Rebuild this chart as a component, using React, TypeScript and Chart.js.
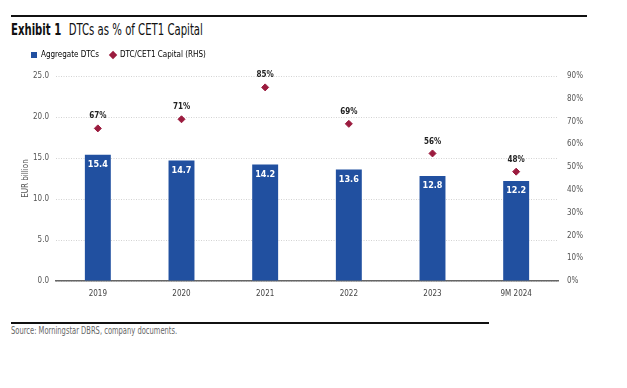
import React, { useEffect, useRef } from "react";
import { Chart, registerables } from "chart.js";

Chart.register(...registerables);

const categories = ["2019", "2020", "2021", "2022", "2023", "9M 2024"];
const aggregateDTCs = [15.4, 14.7, 14.2, 13.6, 12.8, 12.2];
const dtcToCet1 = [67, 71, 85, 69, 56, 48];
const leftTicks = [0, 5, 10, 15, 20, 25];
const rightTicks = [0, 10, 20, 30, 40, 50, 60, 70, 80, 90];

const FONT = "'Liberation Sans Narrow', 'DejaVu Sans Condensed', 'Roboto', sans-serif";
const BLUE = "#2150a0";
const RED = "#9b1b3e";

const labelPlugin = {
  id: "valueLabels",
  afterDatasetsDraw(chart: any) {
    const ctx = chart.ctx;
    ctx.save();
    ctx.textAlign = "center";
    ctx.textBaseline = "middle";
    const barMeta = chart.getDatasetMeta(0);
    ctx.font = `bold 9px ${FONT}`;
    ctx.fillStyle = "#ffffff";
    barMeta.data.forEach((el: any, i: number) => {
      ctx.fillText(aggregateDTCs[i].toFixed(1), el.x, el.y + 10);
    });
    const ptMeta = chart.getDatasetMeta(1);
    ctx.fillStyle = "#222222";
    ctx.font = `bold 8px ${FONT}`;
    ptMeta.data.forEach((el: any, i: number) => {
      ctx.fillText(dtcToCet1[i] + "%", el.x, el.y - 12);
    });
    ctx.restore();
  },
};

const legendTweak = {
  id: "legendTweak",
  beforeUpdate(chart: any) {
    const lg = chart.legend;
    if (lg && !lg.__tweaked) {
      lg.__tweaked = true;
      const fit = lg.fit.bind(lg);
      lg.fit = function () {
        fit();
        this.height += 7;
      };
      const draw = lg.draw.bind(lg);
      lg.draw = function () {
        const ctx = chart.ctx;
        ctx.save();
        ctx.translate(10, 0);
        draw();
        ctx.restore();
      };
    }
  },
};

export default function App() {
  const ref = useRef<HTMLCanvasElement>(null);
  useEffect(() => {
    if (!ref.current) return;
    const chart = new Chart(ref.current, {
      type: "bar",
      data: {
        labels: categories,
        datasets: [
          {
            type: "bar",
            label: "Aggregate DTCs",
            data: aggregateDTCs,
            backgroundColor: BLUE,
            yAxisID: "y",
            barPercentage: 0.62,
            categoryPercentage: 0.5,
            order: 2,
          },
          {
            type: "line",
            label: "DTC/CET1 Capital (RHS)",
            data: dtcToCet1,
            yAxisID: "y1",
            showLine: false,
            pointStyle: "rectRot",
            pointRadius: 3.5,
            backgroundColor: RED,
            borderColor: RED,
            order: 1,
          } as any,
        ],
      },
      options: {
        animation: false,
        responsive: false,
        maintainAspectRatio: false,
        layout: { padding: { top: 0, left: 0, right: 0, bottom: 0 } },
        plugins: {
          legend: {
            position: "top",
            align: "start",
            labels: {
              usePointStyle: true,
              boxWidth: 6,
              boxHeight: 6,
              padding: 11,
              color: "#333",
              font: { family: FONT, size: 8 },
              generateLabels(chart: any) {
                return chart.data.datasets.map((ds: any, i: number) => ({
                  text: ds.label,
                  fillStyle: i === 0 ? BLUE : RED,
                  strokeStyle: i === 0 ? BLUE : RED,
                  lineWidth: 0,
                  pointStyle: i === 0 ? "rect" : "rectRot",
                  datasetIndex: i,
                  hidden: false,
                }));
              },
            },
          },
          tooltip: { enabled: false },
        },
        scales: {
          x: {
            grid: { display: false, drawTicks: false },
            border: { display: true, color: "#666", width: 1.5 },
            ticks: { color: "#444", font: { family: FONT, size: 8 }, padding: 8 },
            afterFit(s: any) { s.height = 24; },
          },
          y: {
            position: "left",
            min: 0,
            max: 25,
            afterBuildTicks(s: any) { s.ticks = leftTicks.map((v) => ({ value: v })); },
            ticks: {
              color: "#555",
              font: { family: FONT, size: 8 },
              padding: 7,
              callback: (v: any) => Number(v).toFixed(1),
            },
            grid: { color: "#c8c8c8", drawTicks: false, lineWidth: 0.8 },
            border: { display: false, dash: [1, 1.5] },
            title: { display: true, text: "EUR billion", color: "#555", font: { family: FONT, size: 8 }, padding: { top: 11, bottom: 0 } },
            afterFit(s: any) { s.width = 46; },
          },
          y1: {
            position: "right",
            min: 0,
            max: 90,
            afterBuildTicks(s: any) { s.ticks = rightTicks.map((v) => ({ value: v })); },
            ticks: {
              color: "#555",
              font: { family: FONT, size: 8 },
              padding: 9,
              callback: (v: any) => v + "%",
            },
            grid: { display: false, drawTicks: false },
            border: { display: false },
            afterFit(s: any) { s.width = 52; },
          },
        },
      },
      plugins: [legendTweak, labelPlugin],
    });
    return () => chart.destroy();
  }, []);

  return (
    <div style={{ position: "absolute", left: 0, top: 0, width: 627, height: 388, background: "#fff", fontFamily: FONT }}>
      <div style={{ position: "absolute", left: 11, top: 15, width: 576, height: 2, background: "#111" }} />
      <div style={{ position: "absolute", left: 11, top: 21, fontSize: 15, color: "#111", whiteSpace: "nowrap", transform: "scaleX(0.75)", transformOrigin: "left top" }}>
        <span style={{ fontWeight: "bold" }}>Exhibit 1</span>
        <span style={{ marginLeft: 10 }}>DTCs as % of CET1 Capital</span>
      </div>
      <canvas ref={ref} width={600} height={265} style={{ position: "absolute", left: 10, top: 40, width: 600, height: 265 }} />
      <div style={{ position: "absolute", left: 11, top: 322, width: 478, height: 1.5, background: "#111" }} />
      <div style={{ position: "absolute", left: 11, top: 325, fontSize: 10, color: "#666", whiteSpace: "nowrap", transform: "scaleX(0.75)", transformOrigin: "left top" }}>
        Source: Morningstar DBRS, company documents.
      </div>
    </div>
  );
}
